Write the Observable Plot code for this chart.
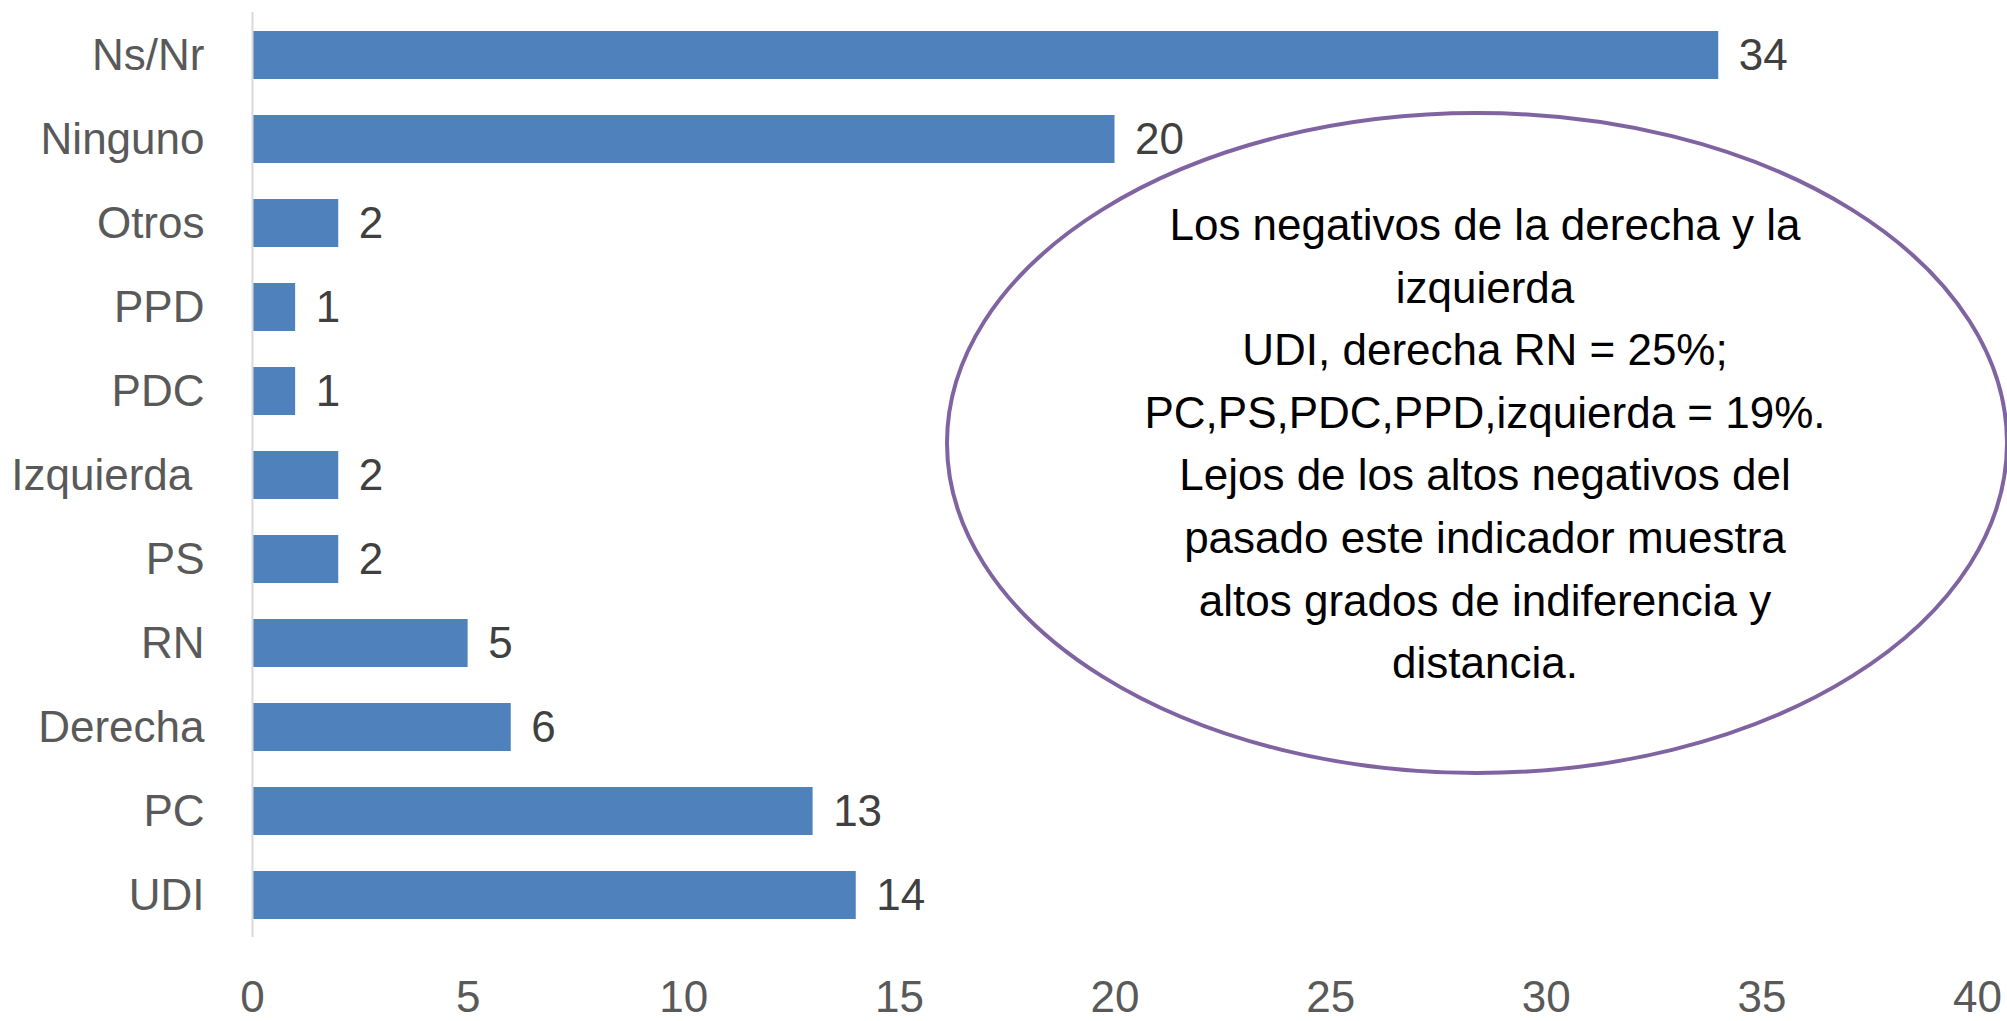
<!DOCTYPE html>
<html>
<head>
<meta charset="utf-8">
<script src="https://cdn.jsdelivr.net/npm/d3@7"></script>
<script src="https://cdn.jsdelivr.net/npm/@observablehq/plot@0.6"></script>
<style>
  html, body { margin: 0; padding: 0; background: #fff; }
  #chart svg { display: block; }
</style>
</head>
<body>
<div id="chart"></div>
<script>
const categories = ["Ns/Nr", "Ninguno", "Otros", "PPD", "PDC", "Izquierda\u00a0", "PS", "RN", "Derecha", "PC", "UDI"];
const values = [34, 20, 2, 1, 1, 2, 2, 5, 6, 13, 14];
const xTicks = [0, 5, 10, 15, 20, 25, 30, 35, 40];
const noteLines = [
  "Los negativos de la derecha y la",
  "izquierda",
  "UDI, derecha RN = 25%;",
  "PC,PS,PDC,PPD,izquierda = 19%.",
  "Lejos de los altos negativos del",
  "pasado este indicador muestra",
  "altos grados de indiferencia y",
  "distancia."
];

const data = categories.map((c, i) => ({category: c, value: values[i]}));
const FONT = "'Liberation Sans', Arial, sans-serif";

const plot = Plot.plot({
  width: 2007,
  height: 1021,
  marginLeft: 252,
  marginRight: 30,
  marginTop: 12,
  marginBottom: 84,
  style: {fontFamily: FONT, fontSize: "44px", color: "#595959", background: "#fff"},
  x: {domain: [0, 40], ticks: xTicks, tickSize: 0, tickPadding: 43, label: null},
  y: {domain: categories, paddingInner: 0.43, paddingOuter: 0.215, tickSize: 0, tickPadding: 48, label: null},
  marks: [
    Plot.barX(data, {x: "value", y: "category", fill: "#4F81BD"}),
    Plot.ruleX([0], {stroke: "#d9d9d9", strokeWidth: 2}),
    Plot.text(data, {x: "value", y: "category", text: d => String(d.value), dx: 20, textAnchor: "start", fill: "#404040", fontSize: 44})
  ]
});

document.getElementById("chart").appendChild(plot);

const svg = d3.select(plot);
const note = svg.append("g");
note.append("ellipse")
  .attr("cx", 1477).attr("cy", 443)
  .attr("rx", 530).attr("ry", 330)
  .attr("fill", "none")
  .attr("stroke", "#8064A2")
  .attr("stroke-width", 4);
note.selectAll("text.note")
  .data(noteLines)
  .join("text")
  .attr("class", "note")
  .attr("x", 1485)
  .attr("y", (d, i) => 240 + i * 62.6)
  .attr("text-anchor", "middle")
  .attr("fill", "#000")
  .style("font-family", FONT)
  .style("font-size", "44px")
  .text(d => d);
</script>
</body>
</html>
